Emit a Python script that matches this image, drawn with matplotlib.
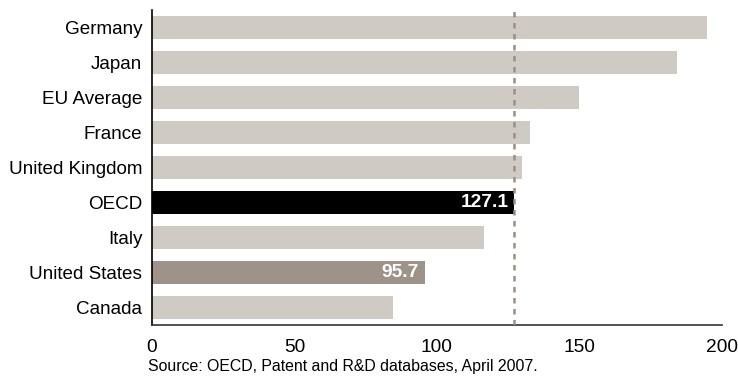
import matplotlib.pyplot as plt

plt.rcParams['font.family'] = ['Liberation Sans', 'DejaVu Sans']

# patents per million population (triadic), top to bottom
countries = ['Germany', 'Japan', 'EU Average', 'France', 'United Kingdom',
             'OECD', 'Italy', 'United States', 'Canada']
values = [194.7, 184.4, 149.8, 132.6, 129.8, 127.1, 116.5, 95.7, 84.5]
oecd_avg = 127.1

light = '#cfcac4'
colors = [light] * len(countries)
colors[countries.index('OECD')] = '#000000'
colors[countries.index('United States')] = '#9e9389'

fig = plt.figure(figsize=(7.38, 3.77), dpi=100)
ax = fig.add_axes([0.206, 0.138, 0.772, 0.8355])

pos = list(range(len(countries)))[::-1]
ax.barh(pos, values, height=0.657, color=colors, zorder=2)
ax.axvline(oecd_avg, color='#9c8f86', linestyle=(0, (2.2, 2.2)), lw=1.8, zorder=3)

# value labels inside the highlighted bars
for name in ['OECD', 'United States']:
    i = countries.index(name)
    ax.text(values[i] - 2, pos[i], f'{values[i]:.1f}', color='white',
            fontsize=13.8, fontweight='bold', ha='right', va='center', zorder=4)

ax.set_xlim(0, 200)
ax.set_ylim(-0.5, 8.5)
ax.set_yticks(pos)
ax.set_yticklabels(countries, fontsize=13.6)
ax.set_xticks([0, 50, 100, 150, 200])
ax.tick_params(axis='both', length=0)
ax.tick_params(axis='x', pad=10, labelsize=13.8)
ax.tick_params(axis='y', pad=7)
for s in ['top', 'right']:
    ax.spines[s].set_visible(False)
ax.spines['left'].set_linewidth(1.2)
ax.spines['bottom'].set_linewidth(1.2)
ax.spines['bottom'].set_color('#333333')

fig.text(0.2005, 0.029, 'Source: OECD, Patent and R&D databases, April 2007.',
         fontsize=11.4, ha='left', va='center')

fig.savefig('out.png', dpi=100)
